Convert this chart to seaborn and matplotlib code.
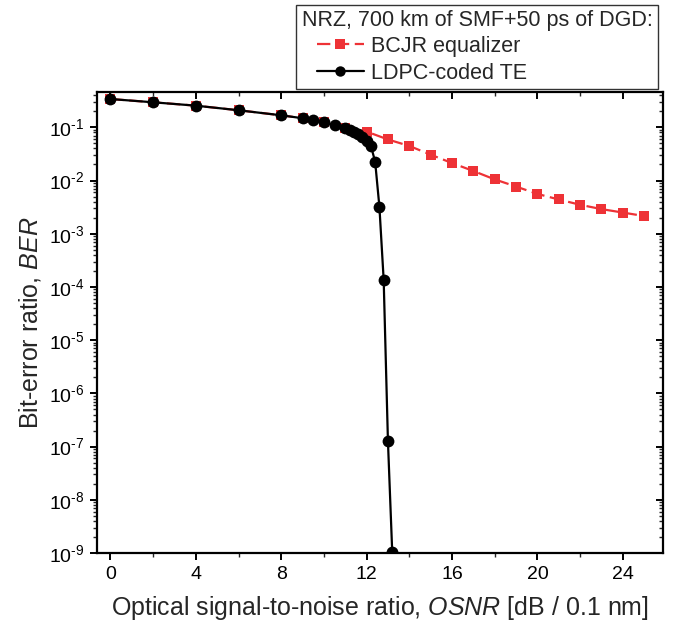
import matplotlib
matplotlib.use("Agg")
import matplotlib.pyplot as plt
import matplotlib.ticker as mticker
from matplotlib.lines import Line2D
from matplotlib.legend_handler import HandlerLine2D
import numpy as np
import pandas as pd
import seaborn as sns

# OSNR [dB / 0.1 nm] and BER for the two receivers
bcjr_osnr = [0, 2, 4, 6, 8, 9, 10, 11, 12, 13, 14, 15, 16, 17, 18, 19, 20, 21, 22, 23, 24, 25]
bcjr_ber = [0.34, 0.295, 0.255, 0.209, 0.168, 0.148, 0.124, 0.096, 0.083, 0.059, 0.0446,
            0.0306, 0.0213, 0.0151, 0.0105, 0.0077, 0.0056, 0.0044, 0.0035, 0.0029,
            0.0025, 0.00215]

ldpc_osnr = [0, 2, 4, 6, 8, 9, 9.5, 10, 10.5, 11, 11.2, 11.4, 11.6, 11.8, 12.0, 12.2,
             12.4, 12.6, 12.8, 13.0, 13.2]
ldpc_ber = [0.34, 0.295, 0.255, 0.209, 0.168, 0.148, 0.135, 0.124, 0.109, 0.096, 0.09,
            0.083, 0.075, 0.066, 0.056, 0.045, 0.0226, 0.0032, 1.35e-4, 1.25e-7, 1.05e-9]

series_labels = ["BCJR equalizer", "LDPC-coded TE"]
legend_title = "NRZ, 700 km of SMF+50 ps of DGD:"
x_ticks = [0, 4, 8, 12, 16, 20, 24]

sns.set_theme(style="ticks")
plt.rcParams["font.family"] = ["Liberation Sans", "DejaVu Sans"]
plt.rcParams["mathtext.fontset"] = "custom"
plt.rcParams["mathtext.rm"] = "Liberation Sans"
plt.rcParams["mathtext.it"] = "Liberation Sans:italic"
plt.rcParams["mathtext.default"] = "regular"

red = "#EE3236"
dash = (0, (6, 2.5))

fig = plt.figure(figsize=(6.82, 6.29), dpi=100)
ax = fig.add_axes([0.1422, 0.1208, 0.972 - 0.1422, 0.8537 - 0.1208])

df_bcjr = pd.DataFrame({"osnr": bcjr_osnr, "ber": bcjr_ber})
df_ldpc = pd.DataFrame({"osnr": ldpc_osnr, "ber": ldpc_ber})

sns.lineplot(data=df_bcjr, x="osnr", y="ber", ax=ax, color=red, lw=1.6,
             marker="s", markersize=7.5, markeredgewidth=0,
             linestyle=dash, sort=False, zorder=2)
sns.lineplot(data=df_ldpc, x="osnr", y="ber", ax=ax, color="black", lw=1.6,
             marker="o", markersize=8.5, markeredgewidth=0, sort=False, zorder=3)

ax.set_yscale("log")
ax.set_xlim(-0.63, 25.88)
ax.set_ylim(1e-9, 0.46)

ax.xaxis.set_major_locator(mticker.FixedLocator(x_ticks))
ax.xaxis.set_minor_locator(mticker.MultipleLocator(2))
ax.yaxis.set_major_locator(mticker.LogLocator(base=10, numticks=20))
ax.yaxis.set_minor_locator(mticker.LogLocator(base=10, subs=np.arange(2, 10), numticks=20))
ax.yaxis.set_minor_formatter(mticker.NullFormatter())
ax.yaxis.set_major_formatter(
    mticker.FuncFormatter(lambda v, p: "$10^{\\text{-%d}}$" % abs(int(round(np.log10(v))))))

for side in ["left", "right", "top", "bottom"]:
    ax.spines[side].set_visible(True)
    ax.spines[side].set_linewidth(1.6)
    ax.spines[side].set_color("black")

ax.tick_params(axis="both", which="major", direction="out", length=5, width=1.4,
               labelsize=14, colors="black", pad=4)
ax.tick_params(axis="both", which="minor", direction="out", length=3, width=1.0)
ax.tick_params(axis="x", which="both", top=True, labeltop=False)
ax.tick_params(axis="y", which="both", right=True, labelright=False)
# top and right ticks point inwards
for t in ax.xaxis.get_major_ticks() + ax.xaxis.get_minor_ticks():
    t.tick2line.set_marker(matplotlib.lines.TICKDOWN)
for t in ax.yaxis.get_major_ticks() + ax.yaxis.get_minor_ticks():
    t.tick2line.set_marker(matplotlib.lines.TICKLEFT)

ax.set_xlabel("Optical signal-to-noise ratio, $\\mathit{OSNR}$ [dB / 0.1 nm]",
              fontsize=18, labelpad=8)
ax.set_ylabel("Bit-error ratio, $\\mathit{BER}$", fontsize=18, labelpad=4)
ax.grid(False)

handles = [
    Line2D([], [], color=red, lw=1.6, linestyle=dash, marker="s", markersize=7,
           markeredgewidth=0),
    Line2D([], [], color="black", lw=1.6, marker="o", markersize=7.5, markeredgewidth=0),
]
leg = fig.legend(handles, series_labels, title=legend_title, loc="upper right",
                 bbox_to_anchor=(658 / 682, 1 - 5 / 629), fontsize=15.5,
                 title_fontsize=15.5, frameon=True, fancybox=False, edgecolor="black",
                 borderpad=0.25, labelspacing=0.3, handlelength=2.9, handletextpad=0.3,
                 borderaxespad=0.0, handler_map={Line2D: HandlerLine2D(xpad=0.7)})
leg._legend_box.align = "left"
leg._legend_box.sep = 3
leg.get_frame().set_linewidth(1.0)

fig.savefig("out.png", dpi=100, facecolor="white")
